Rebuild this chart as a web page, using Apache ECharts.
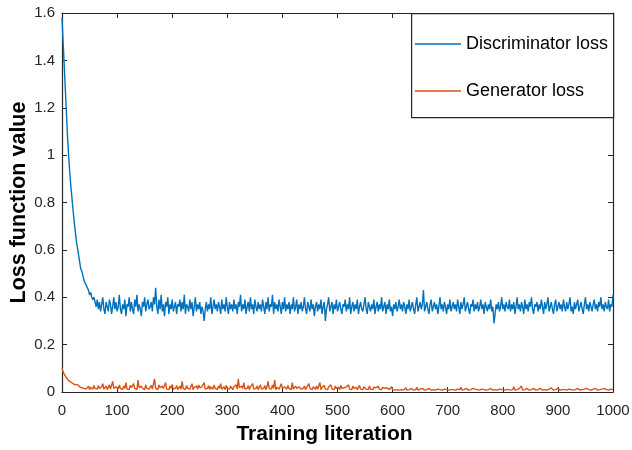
<!DOCTYPE html>
<html>
<head>
<meta charset="utf-8">
<script src="https://cdn.jsdelivr.net/npm/echarts@6/dist/echarts.min.js"></script>
<style>
html,body{margin:0;padding:0;background:#fff;}
#chart{width:632px;height:450px;}
</style>
</head>
<body>
<div id="chart"></div>
<script>
// training iterations (sampled every 2)
const iterations = [
0,2,4,6,8,10,12,14,16,18,20,22,24,26,28,30,32,34,36,38,40,42,44,46,48,50,52,54,56,58,60,
62,64,66,68,70,72,74,76,78,80,82,84,86,88,90,92,94,96,98,100,102,104,106,108,110,
112,114,116,118,120,122,124,126,128,130,132,134,136,138,140,142,144,146,148,150,152,154,156,158,160,
162,164,166,168,170,172,174,176,178,180,182,184,186,188,190,192,194,196,198,200,202,204,206,208,210,
212,214,216,218,220,222,224,226,228,230,232,234,236,238,240,242,244,246,248,250,252,254,256,258,260,
262,264,266,268,270,272,274,276,278,280,282,284,286,288,290,292,294,296,298,300,302,304,306,308,310,
312,314,316,318,320,322,324,326,328,330,332,334,336,338,340,342,344,346,348,350,352,354,356,358,360,
362,364,366,368,370,372,374,376,378,380,382,384,386,388,390,392,394,396,398,400,402,404,406,408,410,
412,414,416,418,420,422,424,426,428,430,432,434,436,438,440,442,444,446,448,450,452,454,456,458,460,
462,464,466,468,470,472,474,476,478,480,482,484,486,488,490,492,494,496,498,500,502,504,506,508,510,
512,514,516,518,520,522,524,526,528,530,532,534,536,538,540,542,544,546,548,550,552,554,556,558,560,
562,564,566,568,570,572,574,576,578,580,582,584,586,588,590,592,594,596,598,600,602,604,606,608,610,
612,614,616,618,620,622,624,626,628,630,632,634,636,638,640,642,644,646,648,650,652,654,656,658,660,
662,664,666,668,670,672,674,676,678,680,682,684,686,688,690,692,694,696,698,700,702,704,706,708,710,
712,714,716,718,720,722,724,726,728,730,732,734,736,738,740,742,744,746,748,750,752,754,756,758,760,
762,764,766,768,770,772,774,776,778,780,782,784,786,788,790,792,794,796,798,800,802,804,806,808,810,
812,814,816,818,820,822,824,826,828,830,832,834,836,838,840,842,844,846,848,850,852,854,856,858,860,
862,864,866,868,870,872,874,876,878,880,882,884,886,888,890,892,894,896,898,900,902,904,906,908,910,
912,914,916,918,920,922,924,926,928,930,932,934,936,938,940,942,944,946,948,950,952,954,956,958,960,
962,964,966,968,970,972,974,976,978,980,982,984,986,988,990,992,994,996,998,1000
];
const discriminatorLoss = [
1.58,1.48,1.38,1.28,1.18,1.08,1.00,0.93,0.87,0.82,0.77,0.72,0.68,0.64,0.61,0.58,0.55,0.52,0.51,0.49,0.47,0.47,0.45,0.44,0.43,0.41,0.42,0.40,0.39,0.40,0.38,
0.36,0.39,0.35,0.38,0.34,0.37,0.40,0.35,0.33,0.38,0.36,0.34,0.39,0.37,0.33,0.36,0.40,0.35,0.38,0.34,0.36,0.41,0.35,0.33,0.37,
0.35,0.39,0.32,0.37,0.36,0.40,0.34,0.38,0.35,0.33,0.39,0.36,0.41,0.34,0.37,0.35,0.32,0.38,0.36,0.40,0.34,0.37,0.39,0.35,0.36,
0.38,0.34,0.40,0.37,0.44,0.36,0.33,0.39,0.35,0.41,0.34,0.37,0.32,0.38,0.36,0.40,0.33,0.37,0.35,0.39,0.34,0.36,0.38,0.33,0.37,
0.36,0.39,0.34,0.38,0.35,0.41,0.33,0.37,0.36,0.34,0.39,0.35,0.38,0.32,0.36,0.40,0.34,0.37,0.35,0.38,0.33,0.36,0.34,0.30,0.35,
0.38,0.34,0.37,0.35,0.40,0.33,0.36,0.39,0.35,0.37,0.34,0.38,0.36,0.33,0.39,0.35,0.37,0.34,0.40,0.36,0.33,0.38,0.35,0.37,0.34,
0.39,0.35,0.37,0.33,0.38,0.36,0.41,0.34,0.37,0.35,0.39,0.33,0.36,0.38,0.34,0.40,0.35,0.37,0.33,0.39,0.36,0.34,0.38,0.35,0.37,
0.34,0.39,0.36,0.33,0.38,0.35,0.40,0.34,0.37,0.36,0.41,0.33,0.38,0.35,0.37,0.34,0.39,0.36,0.33,0.38,0.35,0.40,0.34,0.37,0.35,
0.38,0.33,0.37,0.35,0.40,0.34,0.36,0.39,0.33,0.37,0.35,0.38,0.34,0.36,0.40,0.35,0.33,0.38,0.36,0.34,0.39,0.35,0.37,0.32,0.36,
0.38,0.34,0.37,0.35,0.39,0.33,0.36,0.38,0.30,0.35,0.37,0.40,0.34,0.36,0.38,0.33,0.37,0.35,0.39,0.34,0.36,0.38,0.35,0.33,0.37,
0.36,0.39,0.34,0.37,0.35,0.40,0.33,0.36,0.38,0.34,0.37,0.35,0.39,0.33,0.36,0.38,0.35,0.34,0.37,0.40,0.35,0.33,0.38,0.36,0.34,
0.37,0.35,0.39,0.33,0.36,0.38,0.34,0.37,0.35,0.40,0.34,0.36,0.38,0.33,0.37,0.35,0.39,0.34,0.36,0.32,0.37,0.35,0.38,0.34,0.36,
0.39,0.35,0.37,0.34,0.38,0.36,0.33,0.37,0.35,0.39,0.34,0.36,0.38,0.35,0.33,0.37,0.40,0.34,0.36,0.38,0.35,0.37,0.43,0.34,0.36,
0.38,0.35,0.33,0.37,0.39,0.34,0.36,0.38,0.35,0.37,0.33,0.36,0.40,0.35,0.37,0.34,0.38,0.36,0.33,0.37,0.35,0.39,0.34,0.36,0.38,
0.35,0.37,0.34,0.39,0.36,0.33,0.38,0.35,0.37,0.40,0.34,0.36,0.38,0.35,0.33,0.37,0.36,0.39,0.34,0.37,0.35,0.38,0.34,0.36,0.39,
0.35,0.37,0.33,0.38,0.36,0.34,0.37,0.35,0.39,0.34,0.36,0.29,0.33,0.37,0.35,0.38,0.34,0.36,0.40,0.35,0.37,0.34,0.38,0.36,0.35,
0.39,0.34,0.37,0.35,0.38,0.33,0.36,0.40,0.35,0.37,0.34,0.38,0.36,0.33,0.39,0.35,0.37,0.34,0.38,0.36,0.40,0.35,0.33,0.37,0.36,
0.38,0.34,0.37,0.35,0.39,0.36,0.33,0.38,0.35,0.37,0.40,0.34,0.36,0.38,0.35,0.33,0.37,0.39,0.34,0.36,0.38,0.35,0.37,0.34,0.39,
0.36,0.34,0.38,0.35,0.37,0.40,0.34,0.36,0.33,0.38,0.35,0.37,0.39,0.34,0.36,0.38,0.35,0.33,0.37,0.40,0.35,0.37,0.34,0.38,0.36,
0.34,0.37,0.39,0.35,0.37,0.34,0.38,0.36,0.40,0.35,0.37,0.34,0.38,0.36,0.35,0.39,0.34,0.37,0.36,0.41
];
const generatorLoss = [
0.100,0.085,0.075,0.068,0.060,0.055,0.048,0.050,0.042,0.040,0.035,0.038,0.030,0.028,0.032,0.025,0.022,0.026,0.018,0.020,0.015,0.022,0.012,0.018,0.025,0.010,0.020,0.015,0.012,0.028,0.015,
0.020,0.012,0.028,0.015,0.010,0.022,0.035,0.012,0.018,0.025,0.010,0.015,0.030,0.012,0.020,0.045,0.015,0.010,0.022,0.018,0.012,0.030,0.015,0.020,0.010,
0.025,0.015,0.040,0.012,0.020,0.010,0.028,0.018,0.012,0.035,0.015,0.022,0.010,0.050,0.018,0.012,0.025,0.015,0.020,0.010,0.030,0.015,0.022,0.012,0.018,
0.028,0.012,0.020,0.055,0.015,0.022,0.010,0.030,0.018,0.012,0.025,0.015,0.020,0.040,0.012,0.018,0.010,0.025,0.015,0.032,0.012,0.020,0.015,0.028,0.010,
0.018,0.025,0.012,0.045,0.015,0.020,0.010,0.028,0.015,0.022,0.012,0.018,0.035,0.010,0.020,0.015,0.025,0.012,0.030,0.018,0.010,0.022,0.015,0.040,0.012,
0.020,0.015,0.028,0.010,0.022,0.018,0.012,0.030,0.015,0.020,0.010,0.025,0.015,0.035,0.012,0.018,0.022,0.010,0.028,0.015,0.020,0.012,0.025,0.018,0.010,
0.022,0.015,0.030,0.012,0.055,0.018,0.010,0.025,0.015,0.040,0.012,0.020,0.015,0.028,0.010,0.022,0.018,0.035,0.012,0.020,0.015,0.025,0.010,0.018,0.030,
0.012,0.020,0.015,0.028,0.010,0.022,0.045,0.015,0.018,0.012,0.030,0.015,0.050,0.010,0.020,0.025,0.012,0.018,0.035,0.015,0.010,0.022,0.018,0.012,0.028,
0.015,0.020,0.010,0.040,0.012,0.018,0.025,0.015,0.010,0.022,0.030,0.012,0.018,0.015,0.025,0.010,0.020,0.012,0.035,0.015,0.018,0.010,0.022,0.015,0.012,
0.025,0.012,0.018,0.040,0.010,0.020,0.015,0.028,0.012,0.018,0.010,0.022,0.015,0.030,0.012,0.018,0.010,0.025,0.015,0.012,0.020,0.010,0.028,0.015,0.012,
0.018,0.010,0.022,0.015,0.030,0.012,0.018,0.010,0.025,0.015,0.012,0.020,0.010,0.018,0.028,0.012,0.015,0.010,0.022,0.015,0.012,0.018,0.010,0.025,0.012,
0.015,0.010,0.020,0.012,0.018,0.010,0.025,0.012,0.015,0.010,0.020,0.012,0.015,0.008,0.018,0.012,0.010,0.015,0.022,0.010,0.012,0.008,0.015,0.010,0.012,
0.008,0.012,0.010,0.015,0.008,0.010,0.018,0.008,0.012,0.010,0.008,0.015,0.010,0.008,0.012,0.010,0.020,0.008,0.010,0.012,0.008,0.015,0.010,0.008,0.012,
0.010,0.008,0.015,0.010,0.008,0.012,0.010,0.018,0.008,0.010,0.012,0.008,0.010,0.015,0.008,0.010,0.012,0.008,0.010,0.015,0.008,0.012,0.010,0.008,0.010,
0.015,0.008,0.010,0.012,0.008,0.010,0.020,0.008,0.012,0.010,0.008,0.015,0.010,0.008,0.012,0.010,0.008,0.015,0.010,0.012,0.008,0.010,0.018,0.008,0.010,
0.012,0.008,0.010,0.015,0.008,0.012,0.010,0.008,0.015,0.010,0.008,0.012,0.010,0.015,0.008,0.010,0.012,0.008,0.010,0.015,0.008,0.012,0.010,0.008,0.010,
0.012,0.008,0.015,0.010,0.022,0.008,0.012,0.010,0.008,0.015,0.010,0.025,0.008,0.012,0.010,0.008,0.015,0.010,0.008,0.012,0.010,0.008,0.015,0.010,0.008,
0.012,0.010,0.008,0.015,0.010,0.008,0.012,0.010,0.015,0.008,0.010,0.012,0.008,0.018,0.010,0.008,0.012,0.010,0.008,0.015,0.010,0.008,0.012,0.010,0.008,
0.010,0.015,0.008,0.010,0.012,0.008,0.010,0.015,0.008,0.012,0.010,0.008,0.015,0.010,0.008,0.012,0.010,0.008,0.012,0.010,0.015,0.008,0.010,0.012,0.008,
0.010,0.012,0.008,0.015,0.010,0.008,0.012,0.010,0.008,0.012,0.010,0.015,0.008,0.010,0.012,0.008,0.010,0.012,0.008,0.010
];
const xTicks = [0,100,200,300,400,500,600,700,800,900,1000];
const yTicks = [0,0.2,0.4,0.6,0.8,1,1.2,1.4,1.6];
const seriesNames = ['Discriminator loss','Generator loss'];
const xTitle = 'Training literation';
const yTitle = 'Loss function value';

const pairs = ys => iterations.map((x,i)=>[x, ys[i]]);
const axisColor = '#262626';
const font = 'Liberation Sans, Arial, Helvetica, sans-serif';

const chart = echarts.init(document.getElementById('chart'), null, {renderer:'canvas'});
const baseX = {
  type:'value', min:xTicks[0], max:xTicks[xTicks.length-1], interval:100,
  axisLine:{show:true, onZero:false, lineStyle:{color:axisColor, width:1.2}},
  axisTick:{show:true, inside:true, length:5, lineStyle:{color:axisColor}},
  splitLine:{show:false}
};
const baseY = {
  type:'value', min:yTicks[0], max:yTicks[yTicks.length-1], interval:0.2,
  axisLine:{show:true, onZero:false, lineStyle:{color:axisColor, width:1.2}},
  axisTick:{show:true, inside:true, length:5, lineStyle:{color:axisColor}},
  splitLine:{show:false}
};
chart.setOption({
  animation:false,
  backgroundColor:'#fff',
  grid:{left:62, right:19, top:13, bottom:58, containLabel:false, outerBoundsMode:'none'},
  xAxis:[
    Object.assign({}, baseX, {
      position:'bottom',
      name:xTitle, nameLocation:'middle', nameGap:32, nameMoveOverlap:false,
      nameTextStyle:{fontFamily:font, fontSize:21, fontWeight:'bold', color:'#000', padding:[0,26,0,0]},
      axisLabel:{fontFamily:font, fontSize:15, color:axisColor, margin:11, formatter:v=>String(v)}
    }),
    Object.assign({}, baseX, {position:'top', axisLabel:{show:false}})
  ],
  yAxis:[
    Object.assign({}, baseY, {
      position:'left',
      name:yTitle, nameLocation:'middle', nameGap:32, nameRotate:90, nameMoveOverlap:false,
      nameTextStyle:{fontFamily:font, fontSize:21.5, fontWeight:'bold', color:'#000'},
      axisLabel:{fontFamily:font, fontSize:15, color:axisColor, margin:7}
    }),
    Object.assign({}, baseY, {position:'right', axisLabel:{show:false}})
  ],
  legend:{
    data:seriesNames, orient:'vertical', left:415, top:34, padding:0,
    icon:'rect', itemWidth:46, itemHeight:1.5, itemGap:27,
    textStyle:{fontFamily:font, fontSize:18, color:'#000', lineHeight:20},
    z:20
  },
  graphic:[{
    type:'rect', left:411, top:13, z:10,
    shape:{width:202, height:104},
    style:{fill:'#fff', stroke:axisColor, lineWidth:1.2}
  }],
  series:[
    {name:seriesNames[0], type:'line', data:pairs(discriminatorLoss), showSymbol:false, symbol:'none',
     lineStyle:{color:'#0072BD', width:1.4}, itemStyle:{color:'#0072BD'}},
    {name:seriesNames[1], type:'line', data:pairs(generatorLoss), showSymbol:false, symbol:'none',
     lineStyle:{color:'#D95319', width:1.4}, itemStyle:{color:'#D95319'}}
  ]
});
</script>
</body>
</html>
